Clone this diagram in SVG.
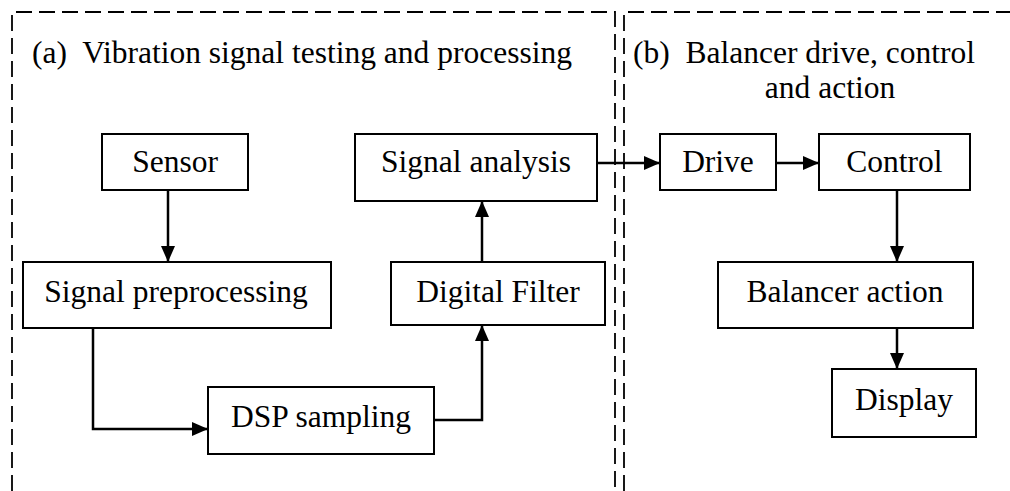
<svg xmlns="http://www.w3.org/2000/svg" width="1010" height="491" viewBox="0 0 1010 491">
  <style>
    .frame { fill: none; stroke: #000; stroke-width: 1.8; stroke-dasharray: 16 7; }
    .box { fill: #fff; stroke: #000; stroke-width: 2; }
    .label { font-family: "Liberation Serif", Tinos, "Times New Roman", Times, "Noto Serif", "DejaVu Serif", serif; font-size: 31.5px; fill: #000; }
    .mid { text-anchor: middle; }
    .link { fill: none; stroke: #000; stroke-width: 2.5; marker-end: url(#head); }
  </style>
  <defs>
    <marker id="head" markerUnits="userSpaceOnUse" markerWidth="16" markerHeight="14" refX="16" refY="7" orient="auto">
      <path d="M0,0 L16,7 L0,14 Z" fill="#000"/>
    </marker>
  </defs>
  <rect width="1010" height="491" fill="#fff"/>

  <!-- section frames -->
  <g id="frames">
    <path class="frame" d="M12,491 V12 H615 V491"/>
    <path class="frame" d="M624,491 V12 H1010"/>
    <text class="label" x="32" y="63" xml:space="preserve">(a)  Vibration signal testing and processing</text>
    <text class="label" x="633" y="63" xml:space="preserve">(b)  Balancer drive, control</text>
    <text class="label mid" x="830" y="98">and action</text>
  </g>

  <!-- connectors -->
  <g id="connectors">
    <path class="link" d="M168,190 V262"/>
    <path class="link" d="M93,328 V429 H208"/>
    <path class="link" d="M434,420 H482 V325"/>
    <path class="link" d="M482,262 V201"/>
    <path class="link" d="M597,163 H660"/>
    <path class="link" d="M776,163 H819"/>
    <path class="link" d="M897,190 V262"/>
    <path class="link" d="M897,328 V369"/>
  </g>

  <!-- nodes -->
  <g id="sensor">
    <rect class="box" x="102" y="134" width="146" height="56"/>
    <text class="label mid" x="175" y="172">Sensor</text>
  </g>
  <g id="signal-preprocessing">
    <rect class="box" x="23" y="262" width="308" height="66"/>
    <text class="label mid" x="176" y="302">Signal preprocessing</text>
  </g>
  <g id="dsp-sampling">
    <rect class="box" x="208" y="387" width="226" height="67"/>
    <text class="label mid" x="321" y="427">DSP sampling</text>
  </g>
  <g id="digital-filter">
    <rect class="box" x="391" y="262" width="214" height="63"/>
    <text class="label mid" x="498" y="302">Digital Filter</text>
  </g>
  <g id="signal-analysis">
    <rect class="box" x="355" y="134" width="242" height="67"/>
    <text class="label mid" x="476" y="172">Signal analysis</text>
  </g>
  <g id="drive">
    <rect class="box" x="660" y="134" width="116" height="56"/>
    <text class="label mid" x="718" y="172">Drive</text>
  </g>
  <g id="control">
    <rect class="box" x="819" y="134" width="151" height="56"/>
    <text class="label mid" x="894.5" y="172">Control</text>
  </g>
  <g id="balancer-action">
    <rect class="box" x="718" y="262" width="255" height="66"/>
    <text class="label mid" x="845" y="302">Balancer action</text>
  </g>
  <g id="display">
    <rect class="box" x="832" y="369" width="144" height="68"/>
    <text class="label mid" x="904" y="410">Display</text>
  </g>
</svg>
